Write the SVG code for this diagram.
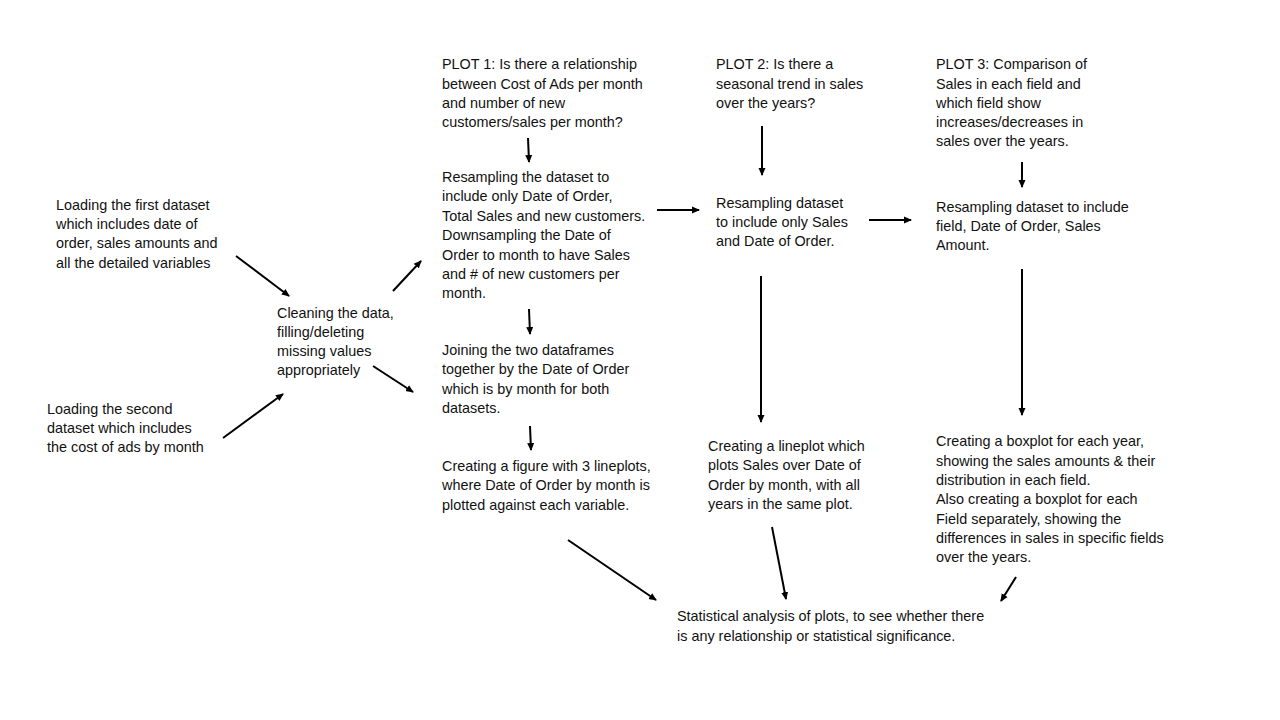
<svg xmlns="http://www.w3.org/2000/svg" width="1280" height="720" viewBox="0 0 1280 720">
<style>
text{font-family:"Liberation Sans",Arial,sans-serif;font-size:14.4px;fill:#111}
.c line{stroke:#000;stroke-width:2;marker-end:url(#ah)}
</style>
<defs>
<marker id="ah" markerWidth="8" markerHeight="8" refX="7" refY="4" orient="auto" markerUnits="userSpaceOnUse">
<path d="M0,0.5 L8,4 L0,7.5 Z" fill="#000"/>
</marker>
</defs>
<rect width="1280" height="720" fill="#fff"/>
<g id="load1"><text x="56" y="210">Loading the first dataset</text><text x="56" y="229">which includes date of</text><text x="56" y="248">order, sales amounts and</text><text x="56" y="268">all the detailed variables</text></g>
<g id="load2"><text x="47" y="414">Loading the second</text><text x="47" y="433">dataset which includes</text><text x="47" y="452">the cost of ads by month</text></g>
<g id="clean"><text x="277" y="318">Cleaning the data,</text><text x="277" y="337">filling/deleting</text><text x="277" y="356">missing values</text><text x="277" y="375">appropriately</text></g>
<g id="plot1"><text x="442" y="69">PLOT 1: Is there a relationship</text><text x="442" y="89">between Cost of Ads per month</text><text x="442" y="108">and number of new</text><text x="442" y="127">customers/sales per month?</text></g>
<g id="res1"><text x="442" y="182">Resampling the dataset to</text><text x="442" y="201">include only Date of Order,</text><text x="442" y="221">Total Sales and new customers.</text><text x="442" y="240">Downsampling the Date of</text><text x="442" y="260">Order to month to have Sales</text><text x="442" y="279">and # of new customers  per</text><text x="442" y="298">month.</text></g>
<g id="join"><text x="442" y="355">Joining the two dataframes</text><text x="442" y="374">together by the Date of Order</text><text x="442" y="394">which is by month for both</text><text x="442" y="413">datasets.</text></g>
<g id="fig"><text x="442" y="471">Creating a figure with 3 lineplots,</text><text x="442" y="490">where Date of Order by month is</text><text x="442" y="510">plotted against each variable.</text></g>
<g id="plot2"><text x="716" y="69">PLOT 2: Is there a</text><text x="716" y="89">seasonal trend in sales</text><text x="716" y="108">over the years?</text></g>
<g id="res2"><text x="716" y="208">Resampling dataset</text><text x="716" y="227">to include only Sales</text><text x="716" y="246">and Date of Order.</text></g>
<g id="lineplot"><text x="708" y="451">Creating a lineplot which</text><text x="708" y="470">plots Sales over Date of</text><text x="708" y="490">Order by month, with all</text><text x="708" y="509">years in the same plot.</text></g>
<g id="plot3"><text x="936" y="69">PLOT 3: Comparison of</text><text x="936" y="89">Sales in each field and</text><text x="936" y="108">which field show</text><text x="936" y="127">increases/decreases in</text><text x="936" y="146">sales over the years.</text></g>
<g id="res3"><text x="936" y="212">Resampling dataset to include</text><text x="936" y="231">field, Date of Order, Sales</text><text x="936" y="250">Amount.</text></g>
<g id="box"><text x="936" y="446">Creating a boxplot for each year,</text><text x="936" y="466">showing the sales amounts &amp; their</text><text x="936" y="485">distribution in each field.</text><text x="936" y="504">Also creating a boxplot for each</text><text x="936" y="524">Field separately, showing the</text><text x="936" y="543">differences in sales in specific fields</text><text x="936" y="562">over the years.</text></g>
<g id="final"><text x="677" y="621">Statistical analysis of plots, to see whether there</text><text x="677" y="641">is any relationship or statistical significance.</text></g>
<g id="connectors" class="c">
<line x1="236" y1="256" x2="289" y2="296"/>
<line x1="223" y1="438" x2="283" y2="394"/>
<line x1="393" y1="291" x2="421" y2="261"/>
<line x1="373" y1="366" x2="413" y2="392"/>
<line x1="528" y1="138" x2="529" y2="162"/>
<line x1="529" y1="309" x2="530" y2="334"/>
<line x1="530" y1="426" x2="531" y2="450"/>
<line x1="657" y1="210" x2="699" y2="210"/>
<line x1="762" y1="126" x2="762" y2="175"/>
<line x1="761" y1="276" x2="761" y2="422"/>
<line x1="869" y1="220" x2="911" y2="220"/>
<line x1="1022" y1="162" x2="1022" y2="187"/>
<line x1="1022" y1="269" x2="1022" y2="415"/>
<line x1="568" y1="540" x2="656" y2="600"/>
<line x1="772" y1="527" x2="786" y2="599"/>
<line x1="1016" y1="577" x2="1001" y2="601"/>
</g>
</svg>
